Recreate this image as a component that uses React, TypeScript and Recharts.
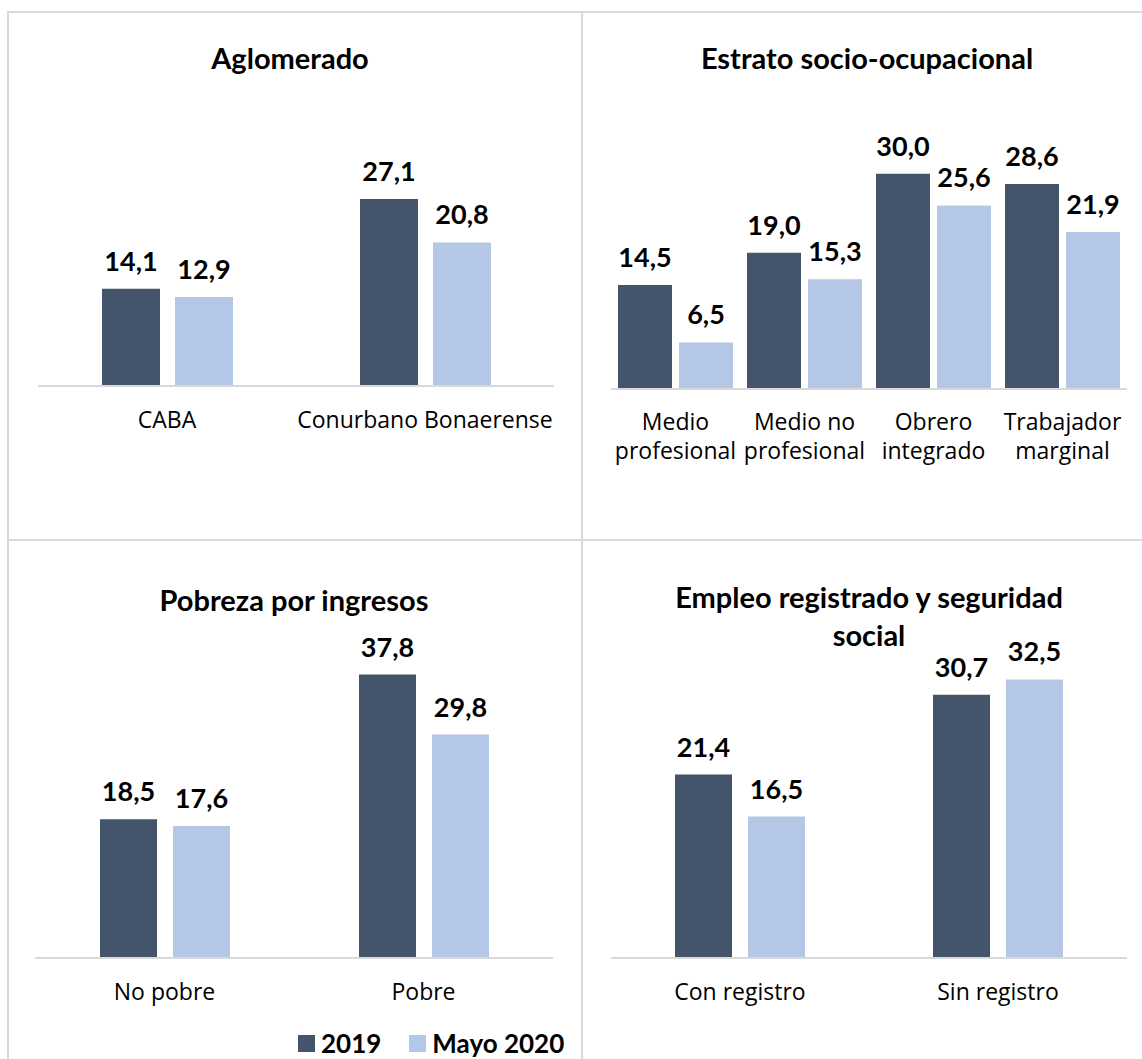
import React from "react";
import { BarChart, Bar, XAxis, YAxis, LabelList } from "recharts";

const seriesNames = ["2019", "Mayo 2020"];
const seriesColors = ["#44546a", "#b4c7e7"];

const aglomeradoCats = ["CABA", "Conurbano Bonaerense"];
const aglomerado2019 = [14.1, 27.1];
const aglomeradoMayo = [12.9, 20.8];

const estratoCats = ["Medio\nprofesional", "Medio no\nprofesional", "Obrero\nintegrado", "Trabajador\nmarginal"];
const estrato2019 = [14.5, 19.0, 30.0, 28.6];
const estratoMayo = [6.5, 15.3, 25.6, 21.9];

const pobrezaCats = ["No pobre", "Pobre"];
const pobreza2019 = [18.5, 37.8];
const pobrezaMayo = [17.6, 29.8];

const empleoCats = ["Con registro", "Sin registro"];
const empleo2019 = [21.4, 30.7];
const empleoMayo = [16.5, 32.5];

const gridColor = "#d9d9d9";
const fmt = (v: any) => Number(v).toFixed(1).replace(".", ",");

const CatTick = (props: any) => {
  const { x, y, payload } = props;
  const lines = String(payload.value).split("\n");
  return (
    <text x={x} y={y} textAnchor="middle" fontFamily="Open Sans" fontSize={23} fill="#000">
      {lines.map((l, i) => (
        <tspan key={i} x={x} dy={i === 0 ? (lines.length > 1 ? 41 : 42) : 29}>
          {l}
        </tspan>
      ))}
    </text>
  );
};

interface PanelProps {
  title: string[];
  titleY: number;
  titleX: number;
  cats: string[];
  a: number[];
  b: number[];
  left: number;
  top: number;
  width: number;
  height: number;
  margin: { top: number; right: number; bottom: number; left: number };
  max: number;
  barSize: number;
  barGap: number;
}

const Panel = (p: PanelProps) => {
  const data = p.cats.map((c, i) => ({ name: c, a: p.a[i], b: p.b[i] }));
  return (
    <>
      <div
        style={{
          position: "absolute",
          left: p.titleX - 300,
          top: p.titleY - 19,
          width: 600,
          textAlign: "center",
          fontFamily: "Lato",
          fontWeight: 700,
          fontSize: 29,
          lineHeight: "38px",
          color: "#000"
        }}
      >
        {p.title.map((t, i) => (
          <div key={i}>{t}</div>
        ))}
      </div>
      <div style={{ position: "absolute", left: p.left, top: p.top }}>
        <BarChart width={p.width} height={p.height} data={data} margin={p.margin} barSize={p.barSize} barGap={p.barGap}>
          <XAxis
            dataKey="name"
            height={60}
            interval={0}
            tickLine={false}
            tickSize={0}
            tickMargin={0}
            axisLine={{ stroke: gridColor, strokeWidth: 2 }}
            tick={<CatTick />}
          />
          <YAxis hide domain={[0, p.max]} />
          <Bar dataKey="a" name={seriesNames[0]} fill={seriesColors[0]} isAnimationActive={false}>
            <LabelList dataKey="a" position="top" offset={18} formatter={fmt} fill="#000" fontSize={27} fontWeight={700} fontFamily="Lato" />
          </Bar>
          <Bar dataKey="b" name={seriesNames[1]} fill={seriesColors[1]} isAnimationActive={false}>
            <LabelList dataKey="b" position="top" offset={18} formatter={fmt} fill="#000" fontSize={27} fontWeight={700} fontFamily="Lato" />
          </Bar>
        </BarChart>
      </div>
    </>
  );
};

const line = (l: number, t: number, w: number, h: number) => (
  <div style={{ position: "absolute", left: l, top: t, width: w, height: h, background: gridColor }} />
);

export default function App() {
  return (
    <div style={{ position: "absolute", left: 0, top: 0, width: 1142, height: 1059, overflow: "hidden", background: "#fff" }}>
      {line(7, 11, 1135, 2)}
      {line(7, 539, 1135, 2)}
      {line(7, 11, 2, 1048)}
      {line(581, 11, 2, 1048)}

      <Panel
        title={["Aglomerado"]}
        titleX={290}
        titleY={58}
        cats={aglomeradoCats}
        a={aglomerado2019}
        b={aglomeradoMayo}
        left={8}
        top={12}
        width={574}
        height={528}
        margin={{ top: 98, right: 28, bottom: 94, left: 30 }}
        max={40}
        barSize={58}
        barGap={15}
      />
      <Panel
        title={["Estrato socio-ocupacional"]}
        titleX={867}
        titleY={58}
        cats={estratoCats}
        a={estrato2019}
        b={estratoMayo}
        left={582}
        top={12}
        width={560}
        height={528}
        margin={{ top: 126, right: 15, bottom: 91, left: 29 }}
        max={35}
        barSize={54}
        barGap={7}
      />
      <Panel
        title={["Pobreza por ingresos"]}
        titleX={294}
        titleY={600}
        cats={pobrezaCats}
        a={pobreza2019}
        b={pobrezaMayo}
        left={8}
        top={540}
        width={574}
        height={519}
        margin={{ top: 118, right: 29, bottom: 41, left: 27 }}
        max={40}
        barSize={57}
        barGap={16}
      />
      <Panel
        title={["Empleo registrado y seguridad", "social"]}
        titleX={869}
        titleY={597}
        cats={empleoCats}
        a={empleo2019}
        b={empleoMayo}
        left={582}
        top={540}
        width={560}
        height={519}
        margin={{ top: 118, right: 15, bottom: 41, left: 29 }}
        max={35}
        barSize={57}
        barGap={16}
      />

      <div
        style={{
          position: "absolute",
          left: 298,
          top: 1025,
          display: "flex",
          alignItems: "center",
          fontFamily: "Lato",
          fontWeight: 700,
          fontSize: 26,
          lineHeight: "36px",
          color: "#000"
        }}
      >
        {seriesNames.map((n, i) => (
          <div key={n} style={{ display: "flex", alignItems: "center", marginRight: i === 0 ? 28 : 0 }}>
            <span style={{ display: "inline-block", width: 17, height: 17, background: seriesColors[i], marginRight: 6 }} />
            <span>{n}</span>
          </div>
        ))}
      </div>
    </div>
  );
}
